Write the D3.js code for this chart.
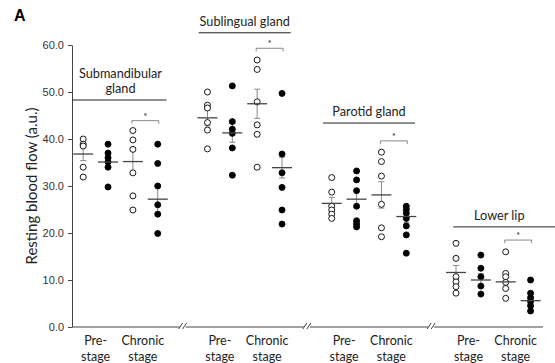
<!DOCTYPE html>
<html>
<head>
<meta charset="utf-8">
<script src="https://cdnjs.cloudflare.com/ajax/libs/d3/7.8.5/d3.min.js"></script>
<style>
  body { margin: 0; background: #fff; }
  svg { display: block; font-family: Lato, "Open Sans", sans-serif; }
</style>
</head>
<body>
<script>
// group names (title lines) and stage labels
let groupTitles = [["Submandibular", "gland"], ["Sublingual gland"], ["Parotid gland"], ["Lower lip"]]
let stageLabels = [["Pre-", "stage"], ["Chronic", "stage"]]
let yTicks = [0, 10, 20, 30, 40, 50, 60]

// individual values per group: open = control, filled = treated
let openPre = [
  [40.0, 38.9, 38.5, 34.0, 31.9],
  [50.0, 47.2, 46.6, 43.5, 41.9, 37.9],
  [31.8, 28.7, 25.7, 24.9, 24.0, 23.1],
  [17.8, 14.6, 10.7, 9.6, 8.6, 7.2]
]
let filledPre = [
  [38.9, 37.0, 36.0, 35.1, 34.0, 29.8],
  [51.3, 43.7, 42.1, 41.2, 38.1, 32.3],
  [33.2, 31.3, 29.0, 25.7, 22.6, 21.9, 21.3],
  [15.3, 12.5, 10.7, 8.7, 7.0]
]
let openChronic = [
  [41.8, 39.8, 37.8, 32.8, 27.9, 24.9],
  [56.8, 54.8, 47.9, 43.0, 41.0, 34.0],
  [37.2, 35.2, 32.1, 26.1, 21.1, 19.2],
  [16.0, 11.4, 10.7, 9.5, 8.2, 6.1]
]
let filledChronic = [
  [38.9, 34.8, 30.0, 26.0, 24.0, 19.9],
  [49.7, 36.8, 32.8, 29.7, 24.9, 21.9],
  [25.7, 25.0, 24.2, 23.1, 21.5, 19.6, 15.7],
  [10.0, 7.2, 6.2, 5.4, 4.5, 3.4]
]
// mean and SEM per group, order: open pre, filled pre, open chronic, filled chronic
let means = [
  [36.8, 35.1, 35.2, 27.2],
  [44.5, 41.3, 47.5, 33.9],
  [26.3, 27.2, 28.1, 23.5],
  [11.6, 10.0, 9.6, 5.6]
]
let sems = [
  [1.4, 1.2, 2.7, 2.8],
  [1.7, 2.0, 3.1, 2.2],
  [1.3, 1.8, 2.8, 1.3],
  [1.5, 1.3, 1.3, 0.9]
]

let width = 555
let height = 363

// layout levels (in y units) for titles and significance brackets
let titleLevel = [48.3, 62.6, 43.4, 21.3]
let bracketLevel = [43.9, 59.3, 39.6, 18.5]

const svg = d3.select("body")
  .append("svg")
  .attr("width", width)
  .attr("height", height)

// slot index: group*5 + slot, slot 4 is the axis break
var x = d3.scaleLinear()
  .domain([-0.45, 18.5])
  .range([72, 543])

var y = d3.scaleLinear()
  .domain([0, 60])
  .range([327, 45])

// y axis
var yAxis = svg.append("g")
  .attr("transform", `translate(${x(-0.45)},0)`)
  .call(d3.axisLeft(y).tickValues(yTicks).tickFormat(d3.format(".1f")).tickSize(4).tickSizeOuter(0))
yAxis.selectAll("path, line").attr("stroke", "#444")
yAxis.selectAll("text").attr("fill", "#333").style("font-size", "11px").attr("x", -8)

svg.append("text")
  .attr("transform", `translate(37,${y(30)}) rotate(-90)`)
  .attr("text-anchor", "middle")
  .attr("fill", "#222")
  .style("font-size", "15px")
  .text("Resting blood flow (a.u.)")

// x axis with breaks
var xt = []
groupTitles.forEach((g, gi) => {
  xt.push({ pos: gi * 5 + 0.5, lab: stageLabels[0] })
  xt.push({ pos: gi * 5 + 2.4, lab: stageLabels[1] })
})
svg.append("line")
  .attr("x1", x(-0.45)).attr("x2", x(18.5))
  .attr("y1", y(0)).attr("y2", y(0))
  .attr("stroke", "#444")

var xl = svg.append("g").selectAll("text")
  .data(xt)
  .join("text")
  .attr("x", d => x(d.pos))
  .attr("y", y(0) + 18)
  .attr("text-anchor", "middle")
  .attr("fill", "#222")
  .style("font-size", "12.5px")
xl.selectAll("tspan")
  .data(d => d.lab.map(t => ({ t, px: x(d.pos) })))
  .join("tspan")
  .attr("x", d => d.px)
  .attr("dy", (d, i) => i == 0 ? 0 : 16)
  .text(d => d.t)

// break marks "//"
var breaks = [4, 9, 14]
breaks.forEach(b => {
  svg.append("rect")
    .attr("x", x(b) - 3).attr("y", y(0) - 1).attr("width", 6).attr("height", 2)
    .attr("fill", "#fff")
  ;[-2, 2].forEach(o => {
    svg.append("line")
      .attr("x1", x(b) + o - 2).attr("x2", x(b) + o + 2)
      .attr("y1", y(0) + 2).attr("y2", y(0) - 4)
      .attr("stroke", "#444")
      .attr("stroke-width", 1)
  })
})

// group titles with underline
groupTitles.forEach((g, gi) => {
  var cx = x(gi * 5 + 1.5) + (gi == 3 ? 6 : 0)
  var ly = y(titleLevel[gi])
  svg.append("line")
    .attr("x1", gi == 0 ? x(-0.45) : cx - 46).attr("x2", gi == 3 ? width : cx + 46)
    .attr("y1", ly).attr("y2", ly)
    .attr("stroke", "#222")
  g.forEach((t, i) => {
    svg.append("text")
      .attr("x", cx)
      .attr("y", ly - 7 - (g.length - 1 - i) * 15)
      .attr("text-anchor", "middle")
      .attr("fill", "#222")
      .style("font-size", "12.7px")
      .text(t)
  })
})

// points
var sets = [openPre, filledPre, openChronic, filledChronic]
var pts = []
sets.forEach((s, si) => {
  s.forEach((vals, gi) => {
    vals.forEach(v => pts.push({ pos: gi * 5 + si, v: v, filled: si % 2 == 1 }))
  })
})

// mean +/- sem
var ms = []
means.forEach((row, gi) => row.forEach((m, si) => ms.push({ pos: gi * 5 + si, m: m, s: sems[gi][si] })))

var eb = svg.append("g")
eb.selectAll(".sem")
  .data(ms)
  .join("line")
  .attr("x1", d => x(d.pos)).attr("x2", d => x(d.pos))
  .attr("y1", d => y(d.m - d.s)).attr("y2", d => y(d.m + d.s))
  .attr("stroke", "#888")
;["top", "bot"].forEach(k => {
  eb.selectAll(".cap" + k)
    .data(ms)
    .join("line")
    .attr("x1", d => x(d.pos) - 3).attr("x2", d => x(d.pos) + 3)
    .attr("y1", d => y(k == "top" ? d.m + d.s : d.m - d.s))
    .attr("y2", d => y(k == "top" ? d.m + d.s : d.m - d.s))
    .attr("stroke", "#888")
})

svg.append("g")
  .selectAll("circle")
  .data(pts)
  .join("circle")
  .attr("cx", d => x(d.pos))
  .attr("cy", d => y(d.v))
  .attr("r", 3.0)
  .attr("fill", d => d.filled ? "#000" : "#fff")
  .attr("stroke", "#000")
  .attr("stroke-width", 0.9)

svg.append("g")
  .selectAll("line")
  .data(ms)
  .join("line")
  .attr("x1", d => x(d.pos) - 10).attr("x2", d => x(d.pos) + 10)
  .attr("y1", d => y(d.m)).attr("y2", d => y(d.m))
  .attr("stroke", "#444")
  .attr("stroke-width", 1.3)

// significance brackets between chronic groups
bracketLevel.forEach((b, gi) => {
  var x1 = x(gi * 5 + 2) - 1, x2 = x(gi * 5 + 3) + 1, by = y(b)
  svg.append("path")
    .attr("d", `M${x1},${by + 3}V${by}H${x2}V${by + 3}`)
    .attr("fill", "none")
    .attr("stroke", "#888")
  svg.append("text")
    .attr("x", (x1 + x2) / 2)
    .attr("y", by - 1)
    .attr("text-anchor", "middle")
    .attr("fill", "#333")
    .style("font-size", "10px")
    .text("*")
})

svg.append("text")
  .attr("x", 14).attr("y", 21)
  .attr("font-weight", "bold")
  .attr("fill", "#000")
  .style("font-family", "Arial, 'Liberation Sans', sans-serif")
  .style("font-size", "16px")
  .text("A")
</script>
</body>
</html>
